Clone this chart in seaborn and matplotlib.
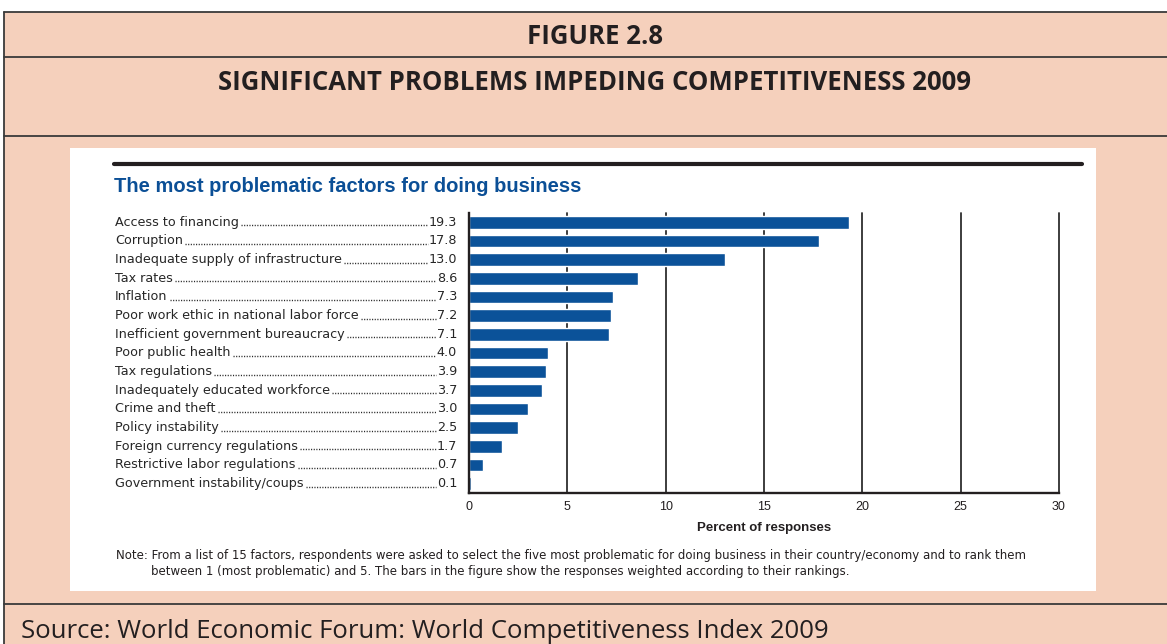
import matplotlib
matplotlib.use("Agg")
import matplotlib.pyplot as plt
from matplotlib.patches import Rectangle
from matplotlib.lines import Line2D
import seaborn as sns
import pandas as pd

factors = [
    "Access to financing",
    "Corruption",
    "Inadequate supply of infrastructure",
    "Tax rates",
    "Inflation",
    "Poor work ethic in national labor force",
    "Inefficient government bureaucracy",
    "Poor public health",
    "Tax regulations",
    "Inadequately educated workforce",
    "Crime and theft",
    "Policy instability",
    "Foreign currency regulations",
    "Restrictive labor regulations",
    "Government instability/coups",
]
shares = [19.3, 17.8, 13.0, 8.6, 7.3, 7.2, 7.1, 4.0, 3.9, 3.7, 3.0, 2.5, 1.7, 0.7, 0.1]
x_ticks = [0, 5, 10, 15, 20, 25, 30]

figure_label = "FIGURE 2.8"
figure_title = "SIGNIFICANT PROBLEMS IMPEDING COMPETITIVENESS 2009"
panel_title = "The most problematic factors for doing business"
axis_title = "Percent of responses"
note_lines = [
    "Note: From a list of 15 factors, respondents were asked to select the five most problematic for doing business in their country/economy and to rank them",
    "between 1 (most problematic) and 5. The bars in the figure show the responses weighted according to their rankings.",
]
source_text = "Source: World Economic Forum: World Competitiveness Index 2009"

PEACH = "#F5D0BC"
FRAME = "#3a3a3a"
BAR = "#0B5299"
TITLE_BLUE = "#0B4F96"
INK = "#231f20"

sns.set_style("white")
plt.rcParams["font.family"] = ["DejaVu Sans"]

W, H = 1167, 644
fig = plt.figure(figsize=(W / 100, H / 100), dpi=100)
fig.patch.set_facecolor("white")


def fx(px):
    return px / W


def fy(py):
    return 1 - py / H


# peach frame, white inner panel and frame rules
fig.add_artist(Rectangle((fx(4), 0), 1 - fx(4), fy(12), transform=fig.transFigure,
                         facecolor=PEACH, edgecolor="none", zorder=0))
fig.add_artist(Rectangle((fx(70), fy(591)), fx(1096) - fx(70), fy(148) - fy(591),
                         transform=fig.transFigure, facecolor="white", edgecolor="none", zorder=0))
for py in (12, 57, 136, 604):
    fig.add_artist(Line2D([fx(4), 1], [fy(py), fy(py)], transform=fig.transFigure,
                          color=FRAME, lw=1.3, zorder=1))
fig.add_artist(Line2D([fx(4), fx(4)], [0, fy(12)], transform=fig.transFigure,
                      color=FRAME, lw=1.3, zorder=1))
fig.add_artist(Line2D([fx(114), fx(1082)], [fy(164), fy(164)], transform=fig.transFigure,
                      color=INK, lw=3.0, zorder=1))

head_font = ["Open Sans", "DejaVu Sans"]
fig.text(fx(595), fy(37), figure_label, ha="center", va="center", fontsize=18.5,
         fontweight="bold", color=INK, family=head_font)
fig.text(fx(595), fy(82), figure_title, ha="center", va="center", fontsize=18.5,
         fontweight="bold", color=INK, family=head_font)
fig.text(fx(21), fy(631), source_text, ha="left", va="center", fontsize=18.5,
         color=INK, family=head_font)

fig.text(fx(114), fy(187), panel_title, ha="left", va="center", fontsize=14.5,
         fontweight="bold", color=TITLE_BLUE, family=["Liberation Sans", "DejaVu Sans"])

# bar chart
narrow = ["Liberation Sans", "DejaVu Sans"]
ax = fig.add_axes([fx(469), fy(493), fx(1059) - fx(469), fy(213) - fy(493)])
df = pd.DataFrame({"factor": factors, "share": shares})
sns.barplot(data=df, x="share", y="factor", orient="h", color=BAR, width=0.68,
            saturation=1, ax=ax, zorder=3)
ax.set_xlim(0, 30)
ax.set_ylim(len(factors) - 0.5, -0.5)
ax.set_xticks(x_ticks)
ax.set_xticklabels([str(t) for t in x_ticks], fontsize=9, family=narrow, color=INK)
ax.tick_params(axis="x", length=0, pad=6)
ax.set_yticks([])
ax.set_ylabel("")
ax.set_xlabel(axis_title, fontsize=9.5, fontweight="bold", labelpad=6, family=narrow,
              color=INK)
ax.set_facecolor("none")
for t in x_ticks[1:]:
    ax.axvline(t, color="#2e2e2e", lw=1.3, zorder=1, clip_on=False)
for side in ("top", "right"):
    ax.spines[side].set_visible(False)
for side in ("left", "bottom"):
    ax.spines[side].set_color(INK)
    ax.spines[side].set_linewidth(1.7)
    ax.spines[side].set_zorder(4)

# category labels with dotted leaders and value readouts
fig.canvas.draw()
renderer = fig.canvas.get_renderer()
label_font = dict(fontsize=9.2, color="#262626")
for i, (name, val) in enumerate(zip(factors, shares)):
    y_disp = ax.transData.transform((0, i))[1]
    y_fig = y_disp / H
    t1 = fig.text(fx(115), y_fig, name, ha="left", va="center", **label_font)
    t2 = fig.text(fx(457), y_fig, f"{val:.1f}", ha="right", va="center", **label_font)
    b1 = t1.get_window_extent(renderer)
    b2 = t2.get_window_extent(renderer)
    x0 = (b1.x1 + 2) / W
    x1 = (b2.x0 - 1) / W
    yb = (b1.y0 + 3.5) / H
    fig.add_artist(Line2D([x0, x1], [yb, yb], transform=fig.transFigure, color="#262626",
                          lw=1.0, linestyle=(0, (0.8, 1.1))))

note_font = dict(fontsize=8.5, color=INK)
fig.text(fx(116), fy(555), note_lines[0], ha="left", va="center", **note_font)
fig.text(fx(151), fy(571), note_lines[1], ha="left", va="center", **note_font)

fig.savefig("out.png", dpi=100, facecolor=fig.get_facecolor())
